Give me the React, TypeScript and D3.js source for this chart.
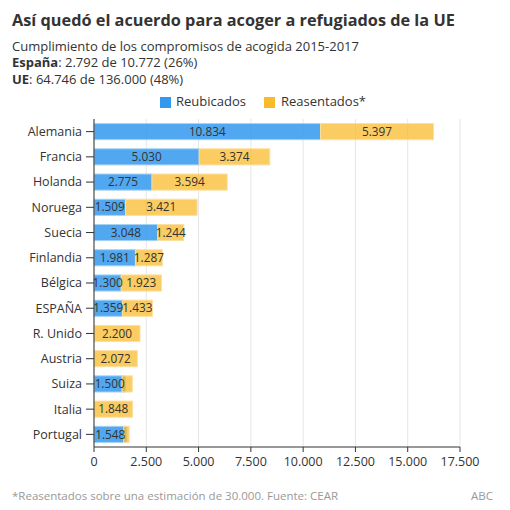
import React from "react";
import * as d3 from "d3";

const countries = ["Alemania","Francia","Holanda","Noruega","Suecia","Finlandia","Bélgica","ESPAÑA","R. Unido","Austria","Suiza","Italia","Portugal"];
const reubicados = [10834, 5030, 2775, 1509, 3048, 1981, 1300, 1359, 0, 0, 1500, 0, 1548];
const reasentados = [5397, 3374, 3594, 3421, 1244, 1287, 1923, 1433, 2200, 2072, 490, 1848, 260];
// start of the reasentados segment (normally stacked on reubicados; Suiza & Portugal overlap in the original)
const reasentadosStart = [10834, 5030, 2775, 1509, 3048, 1981, 1300, 1359, 0, 0, 1340, 0, 1420];
const showReasLabel = [true, true, true, true, true, true, true, true, true, true, false, true, false];
const xTicks = [0, 2500, 5000, 7500, 10000, 12500, 15000, 17500];
const seriesNames = ["Reubicados", "Reasentados*"];

const BLUE = "#3399ee";
const YELLOW = "#f8bb2c";
const FONT = "'Open Sans', sans-serif";

const loc = d3.formatLocale({ decimal: ",", thousands: ".", grouping: [3], currency: ["", "€"] });
const fmt = loc.format(",d");

export default function App() {
  const W = 510, H = 510;
  const x = d3.scaleLinear().domain([0, 17500]).range([94, 460]);
  const y = d3.scaleBand().domain(countries).range([119, 447]).paddingInner(0.36).paddingOuter(0.18);
  const bh = y.bandwidth();

  return (
    <svg width={W} height={H} style={{ position: "absolute", left: 0, top: 0, background: "#fff", fontFamily: FONT }}>
      <rect width={W} height={H} fill="#fff" />
      <text x={12} y={26} fontSize={16.3} fontWeight={700} fill="#333">Así quedó el acuerdo para acoger a refugiados de la UE</text>
      <text x={12} y={50.5} fontSize={13} fill="#333">Cumplimiento de los compromisos de acogida 2015-2017</text>
      <text x={12} y={67} fontSize={13} fill="#333"><tspan fontWeight={700}>España</tspan>: 2.792 de 10.772 (26%)</text>
      <text x={12} y={83.5} fontSize={13} fill="#333"><tspan fontWeight={700}>UE</tspan>: 64.746 de 136.000 (48%)</text>

      <g fontSize={13} fill="#333">
        <rect x={160} y={97} width={11} height={11} fill={BLUE} />
        <text x={176} y={106}>{seriesNames[0]}</text>
        <rect x={264} y={97} width={11} height={11} fill={YELLOW} />
        <text x={281} y={106}>{seriesNames[1]}</text>
      </g>

      {xTicks.map((t) => (
        <line key={"g" + t} x1={x(t)} x2={x(t)} y1={119} y2={447} stroke="#e6e6e6" strokeWidth={1} />
      ))}

      {countries.map((c, i) => {
        const yy = y(c)!;
        return (
          <g key={c}>
            {reubicados[i] > 0 && (
              <rect x={x(0)} y={yy} width={x(reubicados[i]) - x(0)} height={bh}
                fill={BLUE} fillOpacity={0.85} stroke="#a6d2f5" strokeWidth={1} />
            )}
            {reasentados[i] > 0 && (
              <rect x={x(reasentadosStart[i])} y={yy} width={x(reasentadosStart[i] + reasentados[i]) - x(reasentadosStart[i])} height={bh}
                fill={YELLOW} fillOpacity={0.75} stroke="#fbe0a0" strokeWidth={1} />
            )}
            {reubicados[i] > 0 && (
              <text x={(x(0) + x(reubicados[i])) / 2} y={yy + bh / 2} dy="0.35em" textAnchor="middle" fontSize={11.8} fill="#333">{fmt(reubicados[i])}</text>
            )}
            {reasentados[i] > 0 && showReasLabel[i] && (
              <text x={(x(reasentadosStart[i]) + x(reasentadosStart[i] + reasentados[i])) / 2} y={yy + bh / 2} dy="0.35em" textAnchor="middle" fontSize={11.8} fill="#333">{fmt(reasentados[i])}</text>
            )}
            <line x1={86} x2={94} y1={yy + bh / 2} y2={yy + bh / 2} stroke="#333" />
            <text x={82} y={yy + bh / 2} dy="0.35em" textAnchor="end" fontSize={12.5} fill="#333">{c}</text>
          </g>
        );
      })}

      <line x1={94} x2={94} y1={119} y2={447} stroke="#333" />
      <line x1={94} x2={460} y1={447} y2={447} stroke="#333" />
      {xTicks.map((t) => (
        <g key={"t" + t}>
          <line x1={x(t)} x2={x(t)} y1={447} y2={452} stroke="#333" />
          <text x={x(t)} y={466} textAnchor="middle" fontSize={12.5} fill="#333">{fmt(t)}</text>
        </g>
      ))}

      <text x={12} y={500} fontSize={11.5} fill="#999">*Reasentados sobre una estimación de 30.000. Fuente: CEAR</text>
      <text x={493} y={500} textAnchor="end" fontSize={11.5} fill="#999">ABC</text>
    </svg>
  );
}
